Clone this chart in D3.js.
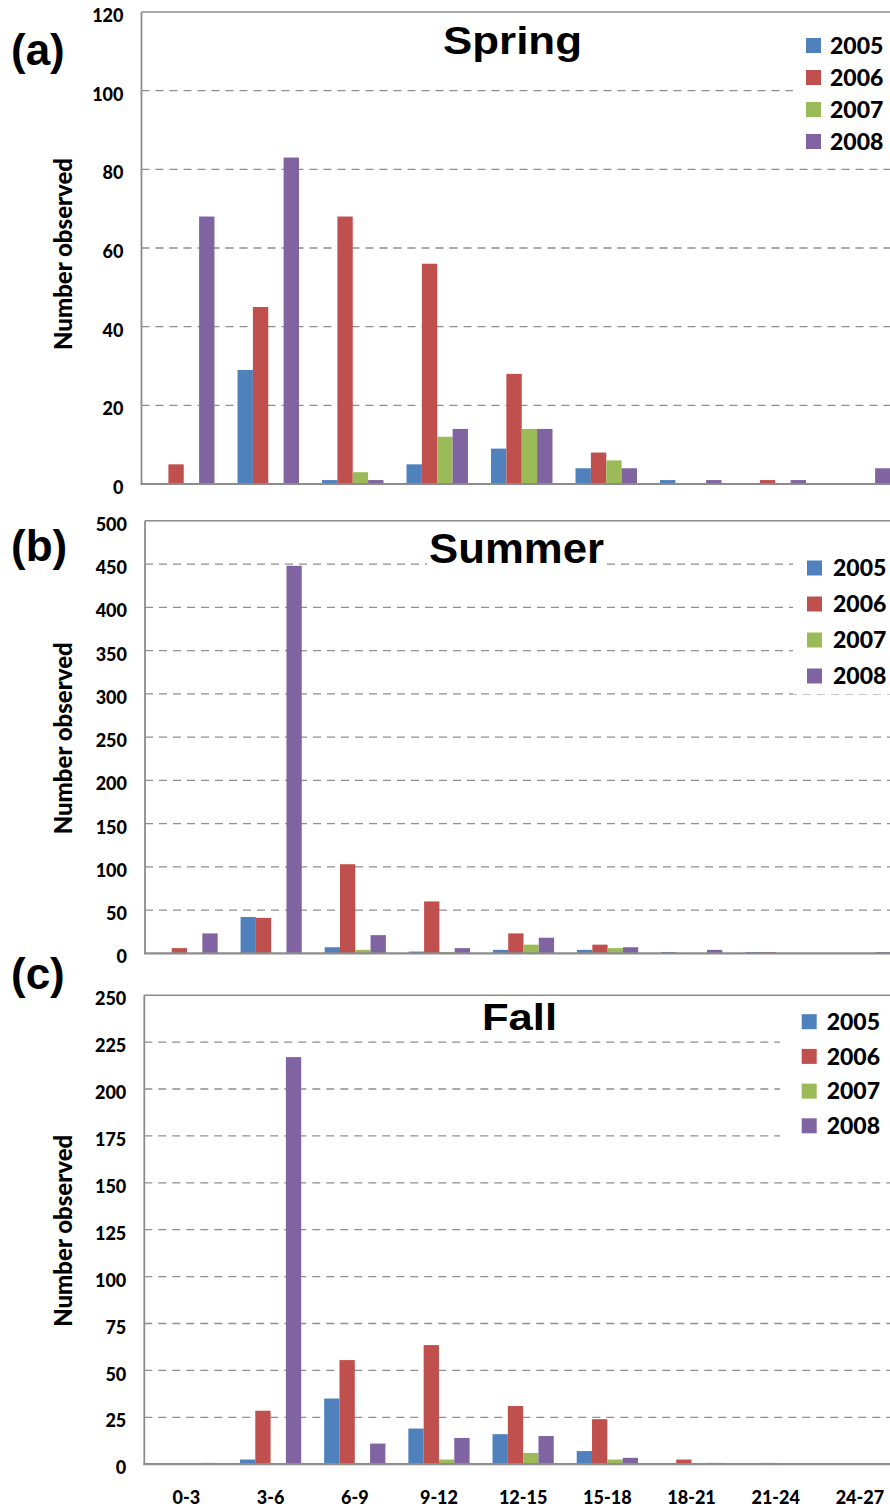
<!DOCTYPE html>
<html>
<head>
<meta charset="utf-8">
<script src="https://cdn.jsdelivr.net/npm/d3@7"></script>
<style>
  html, body { margin: 0; padding: 0; background: #ffffff; }
  svg { display: block; }
</style>
</head>
<body>
<svg id="chart" width="890" height="1509"></svg>
<script>
// ---------------- DATA ----------------
const categories = ["0-3", "3-6", "6-9", "9-12", "12-15", "15-18", "18-21", "21-24", "24-27"];
const years = ["2005", "2006", "2007", "2008"];

const spring2005 = [0, 29, 1, 5, 9, 4, 1, 0, 0];
const spring2006 = [5, 45, 68, 56, 28, 8, 0, 1, 0];
const spring2007 = [0, 0, 3, 12, 14, 6, 0, 0, 0];
const spring2008 = [68, 83, 1, 14, 14, 4, 1, 1, 4];

const summer2005 = [0, 42, 7, 2, 4, 4, 1.5, 1.5, 0];
const summer2006 = [6, 41, 103, 60, 23, 10, 0, 1.5, 0];
const summer2007 = [0, 0, 4, 1.5, 10, 6, 0, 0, 0];
const summer2008 = [23, 448, 21, 6, 18, 7, 4, 0, 1.5];

const fall2005 = [0, 2.5, 35, 19, 16, 7, 0, 0, 0];
const fall2006 = [0, 28.5, 55.5, 63.5, 31, 24, 2.5, 0.7, 0];
const fall2007 = [0, 0, 0, 2.5, 6, 2.5, 0, 0, 0];
const fall2008 = [0.7, 217, 11, 14, 15, 3.4, 0.7, 0, 0];

const springTicks = [0, 20, 40, 60, 80, 100, 120];
const summerTicks = [0, 50, 100, 150, 200, 250, 300, 350, 400, 450, 500];
const fallTicks = [0, 25, 50, 75, 100, 125, 150, 175, 200, 225, 250];

const seasonTitles = ["Spring", "Summer", "Fall"];
const panelLabels = ["(a)", "(b)", "(c)"];
const yTitle = "Number observed";

// ---------------- STYLE / LAYOUT ----------------
const colors = ["#4F81BD", "#C0504D", "#9BBB59", "#8064A2"];
const axisColor = "#8c8c8c";
const gridColor = "#8f8f8f";
const tickFont = "Lato, 'Open Sans', sans-serif";
const tickWeight = 900;
const titleFont = "'Liberation Sans', Arial, sans-serif";
const plotRight = 902;

const panels = [
  { series: [spring2005, spring2006, spring2007, spring2008], ticks: springTicks,
    left: 141.5, top: 12, bottom: 484,
    title: { x: 512.5, y: 54, size: 38, w: 139 },
    label: { x: 11, y: 65 },
    yTitleY: 254,
    legend: { boxX: 793, boxY: 28, boxH: 130, sqX: 806, y0: 45.5, dy: 32, textX: 830 } },
  { series: [summer2005, summer2006, summer2007, summer2008], ticks: summerTicks,
    left: 145, top: 520.8, bottom: 953.3,
    title: { x: 516.5, y: 563.3, size: 42, w: 175 },
    label: { x: 11, y: 561 },
    yTitleY: 738.3,
    legend: { boxX: 793, boxY: 550, boxH: 144, sqX: 807, y0: 568, dy: 36, textX: 833 } },
  { series: [fall2005, fall2006, fall2007, fall2008], ticks: fallTicks,
    left: 144.3, top: 995.2, bottom: 1464.2,
    title: { x: 519.5, y: 1029.5, size: 37, w: 75 },
    label: { x: 11, y: 989 },
    yTitleY: 1230.8,
    legend: { boxX: 780, boxY: 1005, boxH: 140, sqX: 801.7, y0: 1021.7, dy: 34.7, textX: 826.7 } }
];

const svg = d3.select("#chart");
svg.append("rect").attr("width", 890).attr("height", 1509).attr("fill", "#fff");

panels.forEach((p, pi) => {
  const g = svg.append("g");
  const ticks = p.ticks;
  const y = d3.scaleLinear().domain([0, ticks[ticks.length - 1]]).range([p.bottom, p.top]);
  const x0 = d3.scaleBand().domain(categories).range([p.left, plotRight])
    .paddingInner(1.5 / 5.5).paddingOuter(0.75 / 5.5);
  const x1 = d3.scaleBand().domain(years).range([0, x0.bandwidth()]);

  // gridlines
  g.append("g").selectAll("line").data(ticks.slice(1, -1)).join("line")
    .attr("x1", p.left).attr("x2", plotRight)
    .attr("y1", d => y(d)).attr("y2", d => y(d))
    .attr("stroke", gridColor).attr("stroke-width", 1.3)
    .attr("stroke-dasharray", "8,6");

  // title with white background
  const tt = g.append("text")
    .attr("x", p.title.x).attr("y", p.title.y)
    .attr("text-anchor", "middle")
    .attr("font-family", titleFont).attr("font-weight", "bold")
    .attr("font-size", p.title.size)
    .attr("textLength", p.title.w).attr("lengthAdjust", "spacingAndGlyphs")
    .attr("fill", "#000")
    .text(seasonTitles[pi]);
  const bb = tt.node().getBBox();
  g.insert("rect", "text").attr("x", bb.x - 2).attr("y", bb.y).attr("width", bb.width + 4)
    .attr("height", bb.height).attr("fill", "#fff");

  // bars
  p.series.forEach((vals, si) => {
    g.append("g").selectAll("rect").data(vals.map((v, i) => ({ v, c: categories[i] }))).join("rect")
      .attr("x", d => x0(d.c) + x1(years[si]))
      .attr("y", d => y(d.v))
      .attr("width", x1.bandwidth())
      .attr("height", d => y(0) - y(d.v))
      .attr("fill", colors[si]);
  });

  // frame
  g.append("line").attr("x1", p.left).attr("x2", plotRight).attr("y1", p.top).attr("y2", p.top)
    .attr("stroke", axisColor).attr("stroke-width", 1.5);
  g.append("line").attr("x1", p.left).attr("x2", p.left).attr("y1", p.top).attr("y2", p.bottom)
    .attr("stroke", axisColor).attr("stroke-width", 1.8);
  g.append("line").attr("x1", p.left - 1).attr("x2", plotRight).attr("y1", p.bottom).attr("y2", p.bottom)
    .attr("stroke", axisColor).attr("stroke-width", 2.2);

  // y-axis via d3 axis
  const yAxis = d3.axisLeft(y).tickValues(ticks).tickSize(0).tickPadding(18).tickFormat(d3.format("d"));
  const ya = g.append("g").attr("transform", `translate(${p.left},0)`).call(yAxis);
  ya.select(".domain").remove();
  ya.selectAll("text")
    .attr("font-family", tickFont).attr("font-weight", tickWeight).attr("font-size", 18)
    .attr("fill", "#000").attr("dy", "0.7em").attr("y", -3);

  // y title
  g.append("text")
    .attr("transform", `translate(71.5,${p.yTitleY}) rotate(-90)`)
    .attr("text-anchor", "middle")
    .attr("font-family", tickFont).attr("font-weight", tickWeight).attr("font-size", 24)
    .attr("fill", "#000")
    .text(yTitle);

  // panel label
  g.append("text").attr("x", p.label.x).attr("y", p.label.y)
    .attr("font-family", titleFont).attr("font-weight", "bold").attr("font-size", 44)
    .attr("fill", "#000").text(panelLabels[pi]);

  // legend
  const L = p.legend;
  g.append("rect").attr("x", L.boxX).attr("y", L.boxY).attr("width", 890 - L.boxX).attr("height", L.boxH)
    .attr("fill", "#fff");
  const li = g.append("g").selectAll("g").data(years).join("g")
    .attr("transform", (d, i) => `translate(0,${L.y0 + i * L.dy})`);
  li.append("rect").attr("x", L.sqX).attr("y", -7.5).attr("width", 15).attr("height", 15)
    .attr("fill", (d, i) => colors[i]);
  li.append("text").attr("x", L.textX).attr("y", 8.3)
    .attr("font-family", tickFont).attr("font-weight", tickWeight).attr("font-size", 23)
    .attr("fill", "#000").text(d => d);

  // x-axis labels only on bottom panel
  if (pi === 2) {
    const xAxis = d3.axisBottom(x0).tickSize(0).tickPadding(0);
    const xa = g.append("g").attr("transform", `translate(0,${p.bottom})`).call(xAxis);
    xa.select(".domain").remove();
    xa.selectAll("text")
      .attr("font-family", tickFont).attr("font-weight", tickWeight).attr("font-size", 18)
      .attr("fill", "#000").attr("dy", null).attr("y", 40);
  }
});
</script>
</body>
</html>
